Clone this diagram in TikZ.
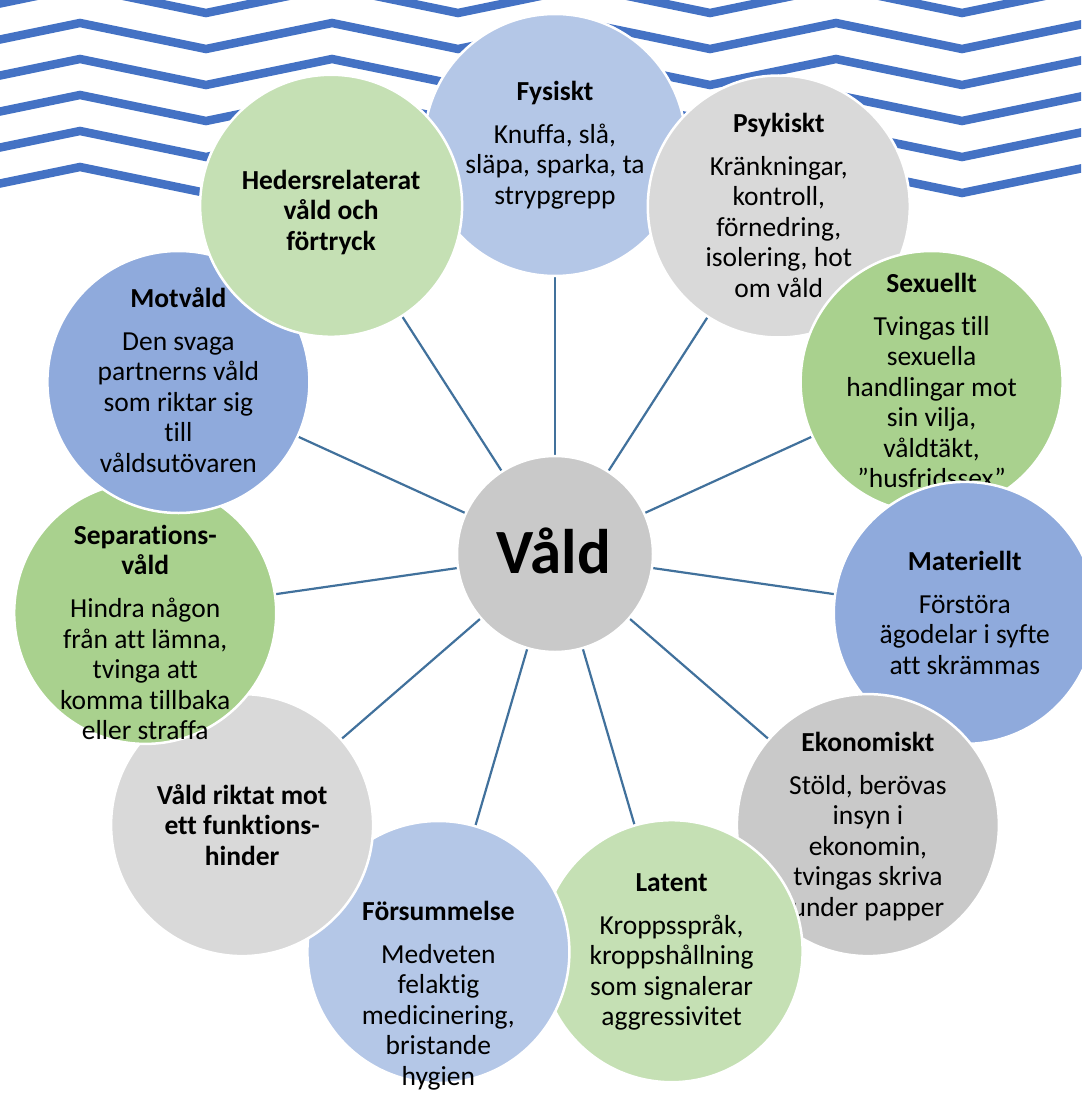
\documentclass[tikz,border=0pt]{standalone}
\usepackage{fontspec}
\setmainfont[Ligatures={NoCommon}]{Carlito}
\definecolor{zigblue}{RGB}{68,114,196}
\definecolor{linkblue}{RGB}{65,113,156}
\definecolor{cLBlue}{RGB}{180,199,231}
\definecolor{cLGray}{RGB}{217,217,217}
\definecolor{cGreen}{RGB}{169,209,142}
\definecolor{cMBlue}{RGB}{143,170,220}
\definecolor{cMGray}{RGB}{201,201,201}
\definecolor{cLGreen}{RGB}{197,224,180}
\newcommand\tstrut{\rule{0pt}{25pt}}
\pgfdeclarelayer{bg}
\pgfsetlayers{bg,main}
\tikzset{
  bub/.style={circle, draw=white, line width=2.5pt, minimum size=262pt, inner sep=0pt, outer sep=0pt},
  txt/.style={align=center, inner sep=0pt, anchor=north, font=\fontsize{27.5}{30.5}\selectfont},
  link/.style={draw=linkblue, line width=2.2pt},
  zig/.style={draw=zigblue, line width=8.5pt, line join=miter}
}
\begin{document}
\begin{tikzpicture}[x=1pt,y=-1pt]
\useasboundingbox (0,0) rectangle (1081,1094);
% outer circles, clockwise, each drawn over the previous one
\node[bub, fill=cLBlue] (fys) at (555,145) {};
\node[txt] (fysT) at (555,75) {\tstrut\textbf{Fysiskt}\\[12.5pt]Knuffa, slå,\\släpa, sparka, ta\\strypgrepp};
\node[bub, fill=cLGray] (psy) at (778.8,206.5) {};
\node[txt] (psyT) at (778.8,107) {\tstrut\textbf{Psykiskt}\\[12.5pt]Kränkningar,\\kontroll,\\förnedring,\\isolering, hot\\om våld};
\node[bub, fill=cGreen] (sex) at (931.6,382) {};
\node[txt] (sexT) at (931.6,267) {\tstrut\textbf{Sexuellt}\\[12.5pt]Tvingas till\\sexuella\\handlingar mot\\sin vilja,\\våldtäkt,\\”husfridssex”};
\node[bub, fill=cMBlue] (mat) at (964.8,612.9) {};
\node[txt] (matT) at (964.8,545) {\tstrut\textbf{Materiellt}\\[12.5pt]Förstöra\\ägodelar i syfte\\att skrämmas};
\node[bub, fill=cMGray] (eko) at (867.9,825.1) {};
\node[txt] (ekoT) at (867.9,726) {\tstrut\textbf{Ekonomiskt}\\[12.5pt]Stöld, berövas\\insyn i\\ekonomin,\\tvingas skriva\\under papper};
\node[bub, fill=cLGreen] (lat) at (671.6,951.2) {};
\node[txt] (latT) at (671.6,866) {\tstrut\textbf{Latent}\\[12.5pt]Kroppsspråk,\\kroppshållning\\som signalerar\\aggressivitet};
\node[bub, fill=cLBlue] (fors) at (438.4,952) {};
\node[txt] (forsT) at (438.4,895) {\tstrut\textbf{Försummelse}\\[12.5pt]Medveten\\felaktig\\medicinering,\\bristande\\hygien};
\node[bub, fill=cLGray] (funk) at (242.1,825.1) {};
\node[txt] (funkT) at (242.1,779) {\tstrut\textbf{Våld riktat mot}\\\textbf{ett funktions-}\\\textbf{hinder}};
\node[bub, fill=cGreen] (sep) at (145.2,612.9) {};
\node[txt] (sepT) at (145.2,519) {\tstrut\textbf{Separations-}\\\textbf{våld}\\[12.5pt]Hindra någon\\från att lämna,\\tvinga att\\komma tillbaka\\eller straffa};
\node[bub, fill=cMBlue] (mot) at (178.4,382) {};
\node[txt] (motT) at (178.4,282) {\tstrut\textbf{Motvåld}\\[12.5pt]Den svaga\\partnerns våld\\som riktar sig\\till\\våldsutövaren};
\node[bub, fill=cLGreen] (hed) at (331.1,205.8) {};
\node[txt] (hedT) at (331.1,164) {\tstrut\textbf{Hedersrelaterat}\\\textbf{våld och}\\\textbf{förtryck}};
% centre
\node[bub, fill=cMGray, minimum size=196pt] (vald) at (555,554) {};
\node[anchor=base, inner sep=0pt, font=\fontsize{63}{70}\selectfont\bfseries] (valdT) at (554,573) {Våld};
\begin{pgfonlayer}{bg}
  \fill[white] (0,0) rectangle (1081,1094);
  \begin{scope}
    \clip (0,0) rectangle (1081,1094);
    \foreach \i in {0,...,5}{
      \pgfmathsetmacro\yp{-13+36*\i}
      \pgfmathsetmacro\yv{13+36*\i}
      \draw[zig] (-46,\yv) -- (80,\yp) -- (206,\yv) -- (332,\yp) -- (458,\yv) -- (584,\yp) -- (710,\yv) -- (836,\yp) -- (962,\yv) -- (1088,\yp) -- (1214,\yv);
    }
  \end{scope}
  \foreach \n in {fys,psy,sex,mat,eko,lat,fors,funk,sep,mot,hed}{
    \draw[link] (vald) -- (\n);
  }
\end{pgfonlayer}
\end{tikzpicture}
\end{document}
